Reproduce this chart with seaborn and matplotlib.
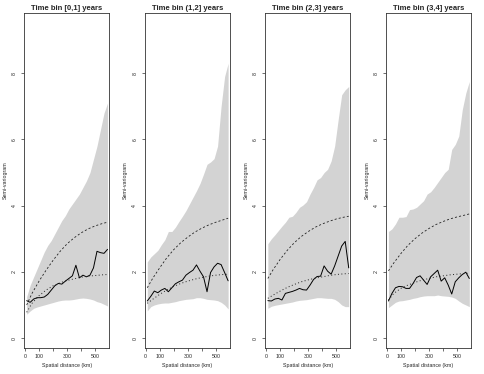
import matplotlib
matplotlib.use("Agg")
import matplotlib.pyplot as plt
import seaborn as sns
import pandas as pd

# spatial lag centres (km) of the empirical semi-variogram / envelope
dist_km = [12, 37, 62, 87, 112, 137, 162, 187, 212, 237, 262, 287,
           312, 337, 362, 387, 412, 437, 462, 487, 512, 537, 562, 587]
# distances where the fitted model curves are drawn
curve_km = [12, 50, 100, 150, 200, 250, 300, 350, 400, 450, 500, 550, 587]

bins = ["[0,1]", "(1,2]", "(2,3]", "(3,4]"]

# empirical semi-variogram (solid)
emp = [
    [1.13, 1.08, 1.18, 1.22, 1.22, 1.24, 1.32, 1.45, 1.58, 1.65, 1.63, 1.72,
     1.80, 1.88, 2.20, 1.82, 1.90, 1.85, 1.90, 2.12, 2.62, 2.58, 2.56, 2.68],
    [1.12, 1.26, 1.42, 1.37, 1.45, 1.50, 1.40, 1.52, 1.64, 1.70, 1.75, 1.90,
     1.98, 2.05, 2.21, 2.02, 1.85, 1.40, 1.98, 2.15, 2.26, 2.22, 1.98, 1.73],
    [1.13, 1.12, 1.18, 1.20, 1.15, 1.35, 1.38, 1.41, 1.45, 1.50, 1.46, 1.45,
     1.60, 1.77, 1.86, 1.87, 2.18, 2.02, 1.93, 2.18, 2.48, 2.78, 2.92, 2.12],
    [1.12, 1.35, 1.52, 1.56, 1.55, 1.50, 1.50, 1.65, 1.83, 1.88, 1.75, 1.62,
     1.85, 1.95, 2.05, 1.72, 1.82, 1.60, 1.33, 1.70, 1.82, 1.92, 1.99, 1.80],
]

# simulation envelope (grey band)
upper = [
    [1.25, 1.60, 1.85, 2.10, 2.35, 2.60, 2.80, 2.95, 3.15, 3.35, 3.55, 3.70,
     3.90, 4.05, 4.20, 4.35, 4.55, 4.75, 5.00, 5.40, 5.80, 6.30, 6.80, 7.10],
    [2.30, 2.45, 2.55, 2.65, 2.82, 2.97, 3.22, 3.22, 3.35, 3.52, 3.68, 3.85,
     4.05, 4.25, 4.45, 4.67, 4.95, 5.25, 5.32, 5.42, 5.80, 7.00, 7.90, 8.30],
    [2.85, 3.00, 3.12, 3.25, 3.38, 3.50, 3.65, 3.68, 3.80, 3.95, 4.02, 4.12,
     4.35, 4.55, 4.78, 4.85, 5.00, 5.10, 5.35, 5.80, 6.60, 7.35, 7.50, 7.60],
    [3.22, 3.30, 3.45, 3.65, 3.65, 3.67, 3.88, 3.90, 3.95, 4.05, 4.15, 4.35,
     4.42, 4.55, 4.70, 4.85, 5.00, 5.10, 5.70, 5.85, 6.10, 6.90, 7.40, 7.75],
]
lower = [
    [0.72, 0.82, 0.90, 0.94, 0.97, 1.00, 1.03, 1.06, 1.09, 1.12, 1.14, 1.15,
     1.15, 1.16, 1.18, 1.20, 1.21, 1.20, 1.18, 1.15, 1.10, 1.07, 1.02, 0.97],
    [0.82, 0.95, 1.00, 1.03, 1.05, 1.06, 1.06, 1.08, 1.10, 1.13, 1.15, 1.17,
     1.18, 1.19, 1.22, 1.22, 1.20, 1.17, 1.16, 1.15, 1.13, 1.08, 1.00, 0.88],
    [0.90, 0.96, 0.99, 1.01, 1.03, 1.05, 1.07, 1.09, 1.12, 1.14, 1.15, 1.16,
     1.18, 1.20, 1.22, 1.22, 1.21, 1.20, 1.20, 1.17, 1.10, 1.00, 0.95, 0.95],
    [0.92, 1.00, 1.08, 1.12, 1.13, 1.15, 1.17, 1.20, 1.22, 1.25, 1.27, 1.28,
     1.28, 1.28, 1.30, 1.28, 1.27, 1.26, 1.24, 1.20, 1.12, 1.05, 1.00, 0.95],
]

# fitted models: dashed and dotted
dashed = [
    [1.00, 1.35, 1.72, 2.05, 2.35, 2.62, 2.85, 3.03, 3.18, 3.30, 3.39, 3.46, 3.50],
    [1.52, 1.80, 2.12, 2.42, 2.67, 2.88, 3.05, 3.20, 3.32, 3.42, 3.50, 3.57, 3.62],
    [1.80, 2.07, 2.38, 2.65, 2.88, 3.07, 3.22, 3.35, 3.45, 3.53, 3.60, 3.65, 3.68],
    [2.03, 2.27, 2.55, 2.80, 3.00, 3.17, 3.31, 3.43, 3.52, 3.60, 3.66, 3.71, 3.75],
]
dotted = [
    [0.78, 1.05, 1.28, 1.45, 1.58, 1.67, 1.74, 1.79, 1.84, 1.87, 1.89, 1.91, 1.92],
    [1.05, 1.17, 1.32, 1.45, 1.56, 1.65, 1.72, 1.78, 1.83, 1.87, 1.90, 1.92, 1.93],
    [1.20, 1.30, 1.42, 1.53, 1.62, 1.70, 1.76, 1.81, 1.85, 1.89, 1.92, 1.94, 1.95],
    [1.15, 1.35, 1.50, 1.60, 1.68, 1.75, 1.80, 1.85, 1.88, 1.91, 1.93, 1.95, 1.96],
]

sns.set_theme(style="white")
plt.rcParams['font.family'] = ['Liberation Sans', 'DejaVu Sans']

fig, axes = plt.subplots(1, 4, figsize=(4.84, 3.74), dpi=100)
fig.subplots_adjust(left=24/484, right=471/484, bottom=1-348/374, top=1-13/374,
                    wspace=0.415)

for i, ax in enumerate(axes):
    ax.fill_between(dist_km, lower[i], upper[i], color='#d3d3d3', linewidth=0)
    df_emp = pd.DataFrame({'dist': dist_km, 'gamma': emp[i]})
    df_fit = pd.DataFrame({'dist': curve_km, 'dash': dashed[i], 'dot': dotted[i]})
    sns.lineplot(data=df_emp, x='dist', y='gamma', ax=ax, color='black', lw=0.7)
    sns.lineplot(data=df_fit, x='dist', y='dash', ax=ax, color='#222222', lw=0.6,
                 linestyle=(0, (2.5, 2.5)))
    sns.lineplot(data=df_fit, x='dist', y='dot', ax=ax, color='#222222', lw=0.7,
                 linestyle=(0, (1, 2.5)))

    ax.set_xlim(-7, 599)
    ax.set_ylim(-0.3, 9.82)
    ax.set_xticks([0, 100, 200, 300, 400, 500])
    ax.set_xticklabels(['0', '100', '', '300', '', '500'])
    ax.set_yticks([0, 2, 4, 6, 8])
    ax.set_yticklabels(['0', '2', '4', '6', '8'], rotation=90, va='center')
    ax.tick_params(axis='both', direction='out', length=2.2, width=0.5,
                   color='#333333', labelsize=3.8, pad=2, bottom=True, left=True)
    ax.tick_params(axis='y', pad=3)
    for s in ax.spines.values():
        s.set_visible(True)
        s.set_color('#333333')
        s.set_linewidth(0.6)
    ax.set_title("Time bin " + bins[i] + " years", fontsize=5.5,
                 fontweight='bold', pad=1.8)
    ax.set_xlabel("Spatial distance (km)", fontsize=3.8, labelpad=3)
    ax.set_ylabel("Semi-variogram", fontsize=3.8, labelpad=3)
    ax.grid(False)

fig.savefig('out.png', dpi=100)
